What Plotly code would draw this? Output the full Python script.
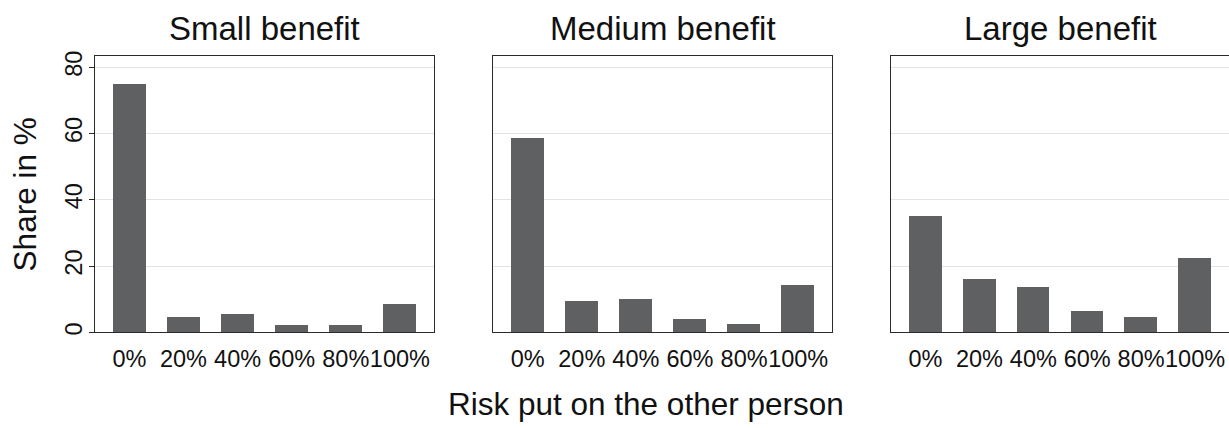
import plotly.graph_objects as go

# Share of respondents by risk level imposed on the other person
categories = ["0%", "20%", "40%", "60%", "80%", "100%"]
small_benefit = [75.1, 4.6, 5.7, 2.4, 2.4, 8.8]
medium_benefit = [58.6, 9.7, 10.2, 4.1, 2.5, 14.4]
large_benefit = [35.3, 16.2, 13.9, 6.7, 4.6, 22.4]
panel_titles = ["Small benefit", "Medium benefit", "Large benefit"]
y_ticks = [0, 20, 40, 60, 80]

W, H = 1229, 428
FONT = "Liberation Sans, Arial, sans-serif"
BAR = "#5f6062"
GRID = "#e3e3e3"
LINE = "#2a2a2a"

# panel placement in pixels
panels_px = [(95, 434), (493.3, 832.3), (891.3, 1229)]
top_px, bottom_px = 51.7, 333.7
y_dom = [1 - bottom_px / H, 1 - top_px / H]

fig = go.Figure()
series = [small_benefit, medium_benefit, large_benefit]

for i, (vals, (x0, x1)) in enumerate(zip(series, panels_px)):
    n = "" if i == 0 else str(i + 1)
    fig.add_trace(go.Bar(
        x=list(range(len(categories))), y=vals,
        xaxis="x" + n, yaxis="y" + n,
        marker=dict(color=BAR, line=dict(width=0)),
        width=0.61, showlegend=False,
    ))
    last = i == 2
    fig.update_layout(**{
        "xaxis" + n: dict(
            domain=[x0 / W, x1 / W],
            range=[-0.635, 5.63],
            tickvals=list(range(len(categories))),
            ticktext=categories,
            tickangle=0,
            ticks="", showgrid=False, zeroline=False,
            showline=True, linecolor=LINE, linewidth=1.4, mirror=True,
            tickfont=dict(family=FONT, size=23.5, color="#111"),
            ticklabelstandoff=5,
            anchor="y" + n, fixedrange=True,
        ),
        "yaxis" + n: dict(
            domain=y_dom,
            range=[0, 83.45],
            tickvals=y_ticks,
            showticklabels=(i == 0),
            ticks="outside" if i == 0 else "",
            ticklen=5, tickwidth=1.2, tickcolor=LINE,
            tickangle=-90,
            tickfont=dict(family=FONT, size=23.5, color="#111"),
            ticklabelstandoff=-3,
            showgrid=True, gridcolor=GRID, gridwidth=1.2,
            zeroline=False,
            showline=True, linecolor=LINE, linewidth=1.4,
            mirror=(not last),
            anchor="x" + n, fixedrange=True,
        ),
    })
    fig.add_annotation(
        text=panel_titles[i], xref="paper", yref="paper",
        x=((x0 + x1) / 2) / W, y=1 - 24 / H,
        xanchor="center", yanchor="middle", showarrow=False,
        font=dict(family=FONT, size=33, color="#111"),
    )

# shared axis titles
fig.add_annotation(
    text="Share in %", xref="paper", yref="paper",
    x=25 / W, y=1 - 193 / H, textangle=-90,
    xanchor="center", yanchor="middle", showarrow=False,
    font=dict(family=FONT, size=31.5, color="#111"),
)
fig.add_annotation(
    text="Risk put on the other person", xref="paper", yref="paper",
    x=646 / W, y=0, yshift=1,
    xanchor="center", yanchor="bottom", showarrow=False,
    font=dict(family=FONT, size=31.5, color="#111"),
)

fig.update_layout(
    width=W, height=H,
    margin=dict(l=0, r=0, t=0, b=0),
    paper_bgcolor="white", plot_bgcolor="white",
    bargap=0,
)

fig.write_html("out.html")
